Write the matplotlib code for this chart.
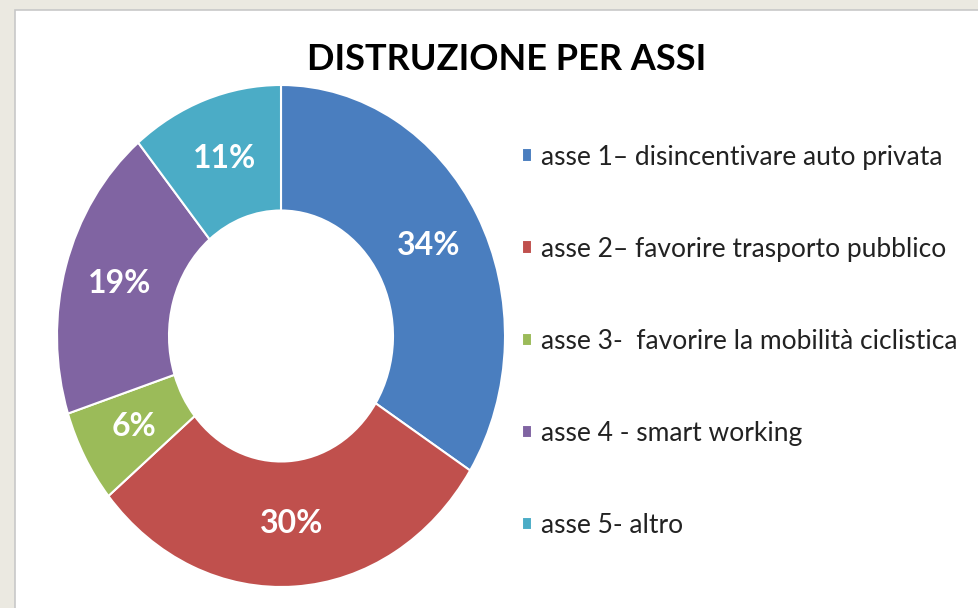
import matplotlib.pyplot as plt
from matplotlib.patches import Rectangle

# --- data ---
categories = [
    "asse 1\u2013 disincentivare auto privata",
    "asse 2\u2013 favorire trasporto pubblico",
    "asse 3-  favorire la mobilità ciclistica",
    "asse 4 - smart working",
    "asse 5- altro",
]
shares = [34, 30, 6, 19, 11]
colors = ["#4A7EBF", "#C0504D", "#9BBB59", "#8064A2", "#4BACC6"]
title = "DISTRUZIONE PER ASSI"

plt.rcParams['font.family'] = ['Lato', 'DejaVu Sans']

W, H = 979, 608
fig = plt.figure(figsize=(W / 100, H / 100), dpi=100)
fig.patch.set_facecolor("#EBE9E1")

# white chart panel
fig.patches.append(Rectangle((15 / W, -0.01), 1, 1 - 10 / H + 0.01, transform=fig.transFigure,
                             facecolor="white", edgecolor="#C8C8C8", linewidth=1.2, zorder=-5))

# donut axes (slightly stretched vertically, as in the original)
cx, cy = 281, 336
rx, ry = 224, 251
pad = 1.02
ax = fig.add_axes([(cx - rx * pad) / W, (H - cy - ry * pad) / H,
                   2 * rx * pad / W, 2 * ry * pad / H], zorder=2)
wedges, texts, autotexts = ax.pie(
    shares, colors=colors, startangle=90, counterclock=False,
    autopct='%1.0f%%', pctdistance=0.75, radius=1,
    wedgeprops=dict(width=0.5, edgecolor="white", linewidth=1.5),
    textprops=dict(color="white", fontsize=23, fontweight="bold"))
ax.set_aspect('auto')
ax.set_xlim(-pad, pad)
ax.set_ylim(-pad, pad)
ax.patch.set_alpha(0)

fig.text(507 / W, 1 - 60 / H, title, ha="center", va="center",
         fontsize=26, fontweight="bold", color="black")

leg = fig.legend(wedges, categories, loc="upper left",
                 bbox_to_anchor=(511 / W, 1 - 134 / H), frameon=False,
                 fontsize=19, handlelength=0.4, handleheight=0.4,
                 handletextpad=0.35, labelspacing=2.54, borderaxespad=0)
for t in leg.get_texts():
    t.set_color("#222222")

fig.savefig("out.png", dpi=100, facecolor=fig.get_facecolor())
